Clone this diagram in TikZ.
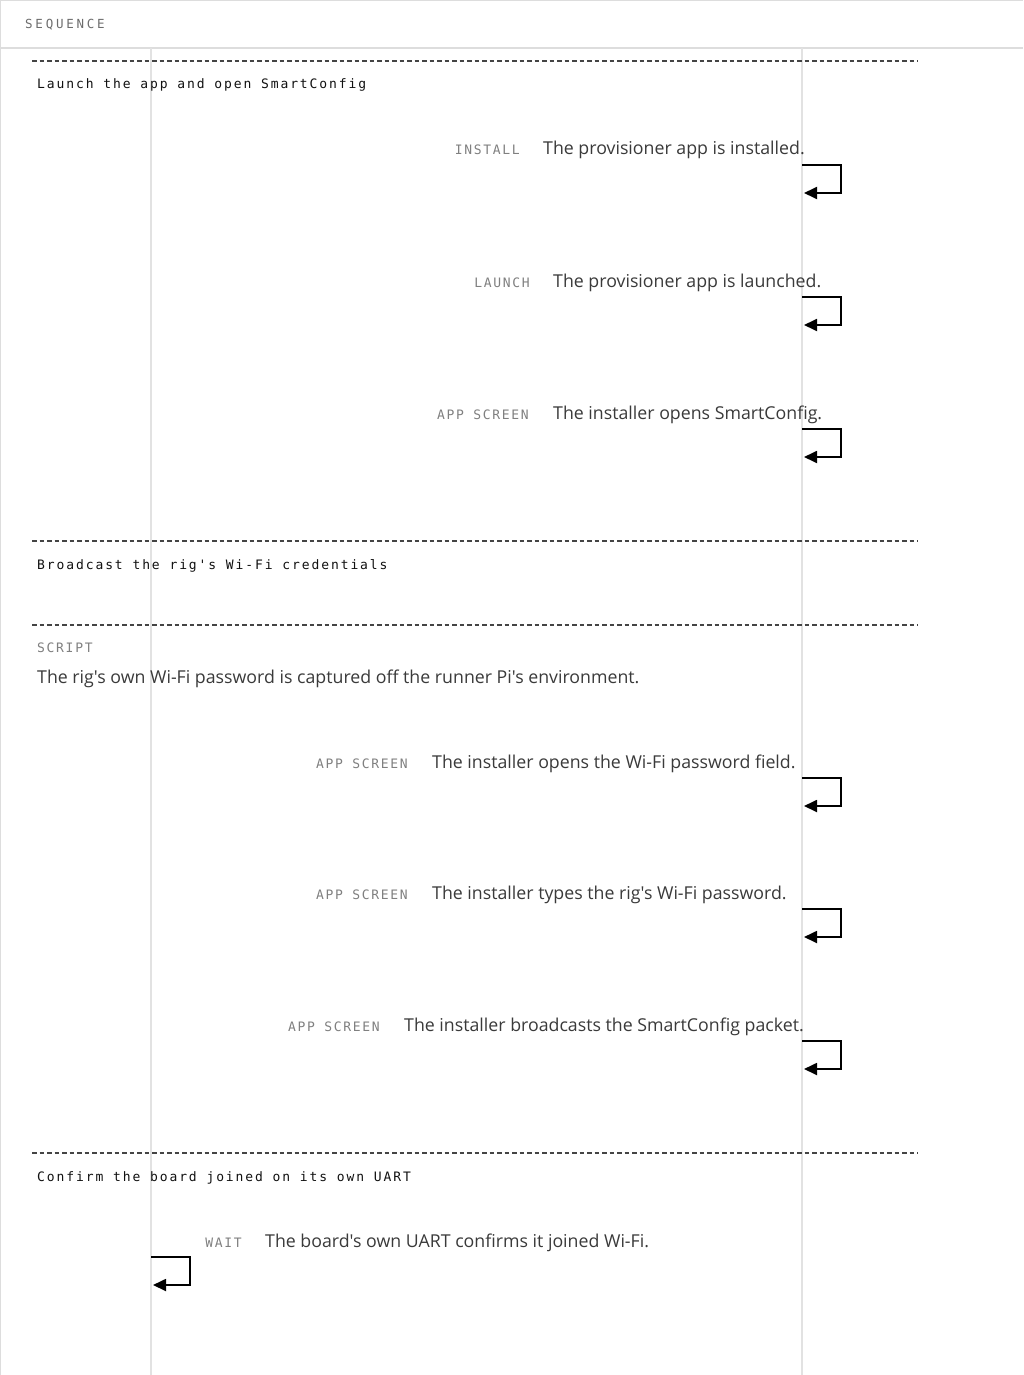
\documentclass[tikz,border=0pt]{standalone}
\usepackage{fontspec}
\setmainfont{Open Sans}[Ligatures=TeXOff]
\newfontfamily\monofont{DejaVu Sans Mono}[Ligatures=TeXOff,LetterSpace=14.6]
\newfontfamily\labfont{DejaVu Sans Mono}[Ligatures=TeXOff,LetterSpace=13]
\newfontfamily\headfont{DejaVu Sans Mono}[Ligatures=TeXOff,LetterSpace=22]
\usetikzlibrary{arrows.meta}
\definecolor{frameC}{HTML}{DDDDDD}
\definecolor{lifeC}{HTML}{E2E2E2}
\definecolor{dashC}{HTML}{444444}
\definecolor{labC}{HTML}{808080}
\definecolor{txtC}{HTML}{3A3A3A}
\definecolor{ttlC}{HTML}{111111}
\tikzset{
  lifeline/.style={draw=lifeC, line width=1.5pt},
  sectline/.style={draw=dashC, line width=1.3pt, dash pattern=on 4.5pt off 3pt},
  secttitle/.style={anchor=base west, inner sep=0pt, text=ttlC, font=\monofont\fontsize{13}{15}\selectfont},
  msglabel/.style={anchor=base east, inner sep=0pt, text=labC, font=\labfont\fontsize{13}{15}\selectfont},
  msgtext/.style={anchor=base west, inner sep=0pt, text=txtC, font=\fontsize{17.75}{21}\selectfont},
  selfmsg/.style={draw=black, line width=1.8pt, -{Triangle[length=13pt,width=12pt]}},
}
\begin{document}
\begin{tikzpicture}[x=1pt,y=-1pt]
\useasboundingbox (0,0) rectangle (1023,1375);
\fill[white] (0,0) rectangle (1023,1375);
% frame
\draw[frameC, line width=1.2pt] (0.6,1375) -- (0.6,0.6) -- (1023,0.6);
\draw[frameC, line width=1.2pt] (0,48) -- (1023,48);
\node[anchor=base west, inner sep=0pt, text=labC!85!black, font=\headfont\fontsize{12.5}{15}\selectfont] (hdr) at (25,28.5) {SEQUENCE};
% lifelines
\coordinate (L1top) at (151,48);
\coordinate (L1bot) at (151,1375);
\coordinate (L2top) at (802,48);
\coordinate (L2bot) at (802,1375);
\draw[lifeline] (L1top) -- (L1bot);
\draw[lifeline] (L2top) -- (L2bot);
% section separators
\foreach \n/\y in {s1/61,s2/541,s3/625,s4/1153}{
  \coordinate (\n a) at (32,\y);
  \coordinate (\n b) at (918,\y);
  \draw[sectline] (\n a) -- (\n b);
}
\node[secttitle] (t1) at (37,89) {Launch the app and open SmartConfig};
\node[secttitle] (t2) at (37,569) {Broadcast the rig's Wi-Fi credentials};
\node[secttitle] (t4) at (37,1181) {Confirm the board joined on its own UART};
% note
\node[anchor=base west, inner sep=0pt, text=labC, font=\labfont\fontsize{13}{15}\selectfont] (scr) at (37,652) {SCRIPT};
\node[msgtext] (scrtxt) at (37,683) {The rig's own Wi-Fi password is captured off the runner Pi's environment.};
% messages
\foreach \n/\y/\lx/\tx/\lab/\txt in {
  m1/155/520/543/INSTALL/{The provisioner app is installed.},
  m2/287/530/553/LAUNCH/{The provisioner app is launched.},
  m3/419/529/553/APP SCREEN/{The installer opens SmartConfig.},
  m4/768/408/432/APP SCREEN/{The installer opens the Wi-Fi password field.},
  m5/899/408/432/APP SCREEN/{The installer types the rig's Wi-Fi password.},
  m6/1031/380/404/APP SCREEN/{The installer broadcasts the SmartConfig packet.}}{
  \node[msglabel] (\n l) at (\lx,\y) {\lab};
  \node[msgtext] (\n t) at (\tx,\y) {\txt};
  \coordinate (\n s) at (802,\y+10);
  \coordinate (\n e) at (804,\y+38);
  \draw[selfmsg] (\n s) -- ++(39,0) |- (\n e);
}
\node[msglabel] (m7l) at (242,1247) {WAIT};
\node[msgtext] (m7t) at (265,1247) {The board's own UART confirms it joined Wi-Fi.};
\coordinate (m7s) at (151,1257);
\coordinate (m7e) at (153,1285);
\draw[selfmsg] (m7s) -- ++(39,0) |- (m7e);
\end{tikzpicture}
\end{document}
